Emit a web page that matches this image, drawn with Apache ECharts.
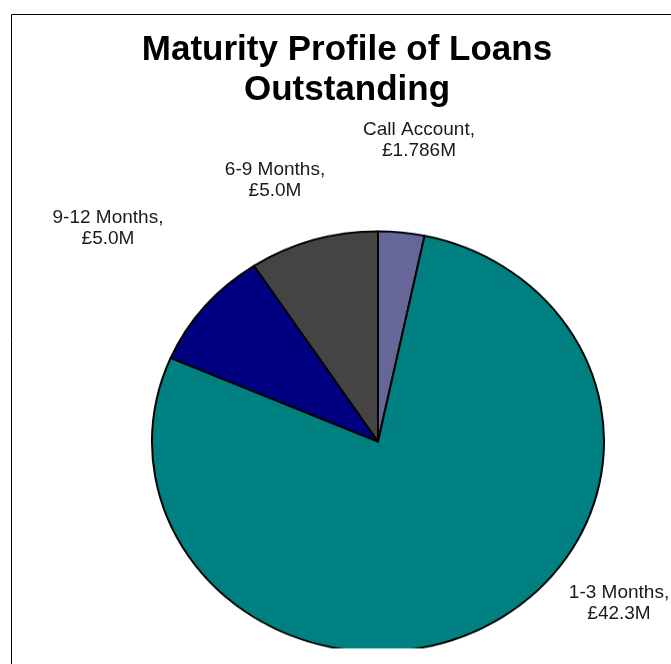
<!DOCTYPE html>
<html>
<head>
<meta charset="utf-8">
<script src="https://cdn.jsdelivr.net/npm/echarts@6/dist/echarts.min.js"></script>
<style>
html,body{margin:0;padding:0;background:#fff;}
#pie,#txt{position:absolute;left:0;top:0;width:671px;height:664px;}
#pie{transform:scaleY(0.93);transform-origin:0 441.5px;}
</style>
</head>
<body>
<div id="pie"></div>
<div id="txt"></div>
<script>
const categories = ['Call Account', '1-3 Months', '9-12 Months', '6-9 Months'];
const values = [1.786, 42.3, 5.0, 5.0];
const valueLabels = ['£1.786M', '£42.3M', '£5.0M', '£5.0M'];
const colors = ['#666699', '#008080', '#000080', '#444444'];
const titleLines = ['Maturity Profile of Loans', 'Outstanding'];

const pieChart = echarts.init(document.getElementById('pie'), null, {renderer: 'canvas'});
pieChart.setOption({
  animation: false,
  backgroundColor: '#ffffff',
  series: [{
    type: 'pie',
    center: [378, 441.5],
    radius: 226,
    startAngle: 90,
    clockwise: true,
    label: {show: false},
    labelLine: {show: false},
    itemStyle: {borderColor: '#000', borderWidth: 2},
    data: categories.map((c, i) => ({name: c, value: values[i], itemStyle: {color: colors[i]}}))
  }]
});

// label anchor positions (text layout only)
const labelPos = [[419, 140], [619, 603], [108, 228], [275, 180]];

const txtChart = echarts.init(document.getElementById('txt'), null, {renderer: 'canvas'});
const labelFont = {fontFamily: 'Liberation Sans, Arial, sans-serif', fontSize: 19, fill: '#1a1a1a', lineHeight: 21, align: 'center', verticalAlign: 'middle'};
txtChart.setOption({
  animation: false,
  graphic: [
    {type: 'rect', shape: {x: 11.5, y: 14.5, width: 700, height: 700}, style: {fill: 'none', stroke: '#000', lineWidth: 1}, silent: true},
    {type: 'text', x: 347, y: 70, style: {text: titleLines.join('\n'), fontFamily: 'Liberation Sans, Arial, sans-serif', fontSize: 35, fontWeight: 'bold', fill: '#000', lineHeight: 40, align: 'center', verticalAlign: 'middle'}}
  ].concat(categories.map((c, i) => ({
    type: 'text',
    x: labelPos[i][0],
    y: labelPos[i][1],
    style: Object.assign({text: c + ',\n' + valueLabels[i]}, labelFont)
  })))
});
</script>
</body>
</html>
